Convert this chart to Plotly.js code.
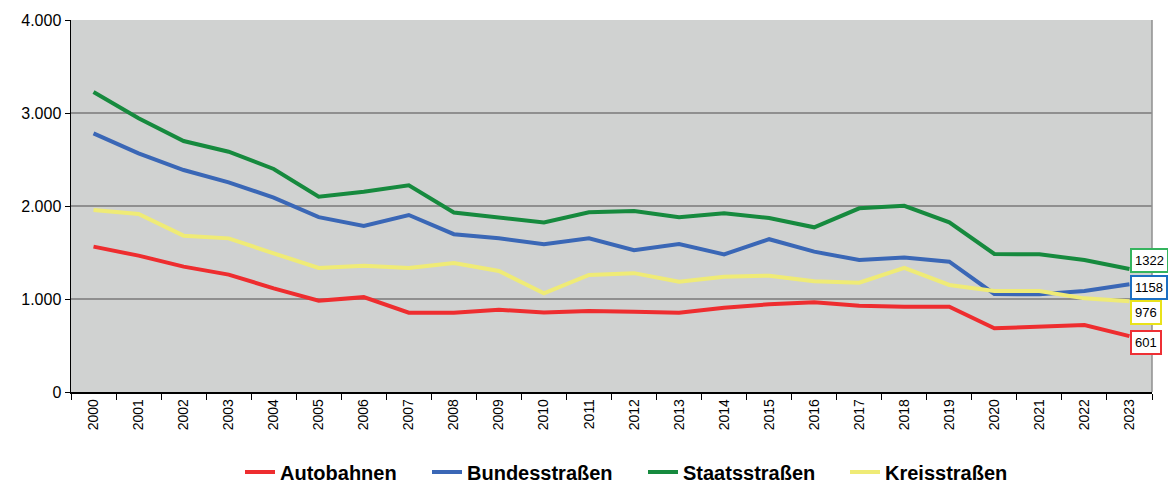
<!DOCTYPE html>
<html><head><meta charset="utf-8">
<script src="https://cdn.plot.ly/plotly-3.0.1.min.js"></script>
<style>html,body{margin:0;padding:0;background:#fff;}#chart{width:1168px;height:486px;}</style>
</head><body><div id="chart"></div>
<script>
const years = ["2000","2001","2002","2003","2004","2005","2006","2007","2008","2009","2010","2011","2012","2013","2014","2015","2016","2017","2018","2019","2020","2021","2022","2023"];
const autobahnen    = [1563,1466,1348,1262,1115,982,1020,853,853,885,855,871,864,853,907,943,964,928,918,918,685,703,720,601];
const bundesstrassen= [2781,2566,2387,2254,2090,1880,1786,1903,1697,1652,1590,1652,1525,1591,1480,1643,1509,1419,1446,1401,1054,1050,1086,1158];
const staatsstrassen= [3225,2943,2699,2584,2398,2100,2154,2222,1930,1876,1824,1932,1946,1878,1921,1870,1771,1975,2002,1824,1484,1480,1419,1322];
const kreisstrassen = [1957,1914,1681,1652,1491,1334,1358,1334,1388,1301,1061,1258,1278,1186,1240,1251,1190,1175,1335,1151,1086,1086,1007,976];
const seriesNames = ["Autobahnen","Bundesstraßen","Staatsstraßen","Kreisstraßen"];
const yTickVals = [0,1000,2000,3000,4000];

const colors = ["#ee2d2f","#3a67b6","#168a3e","#efeb76"];
const boxColors = ["#ee3035","#1c6fc2","#35b45e","#e9e21a"];
const shifts = [-6,-3,9,-11];
const legendIds = ["legend","legend2","legend3","legend4"];
const legendX = [240,427,643,845];
const data = [autobahnen,bundesstrassen,staatsstrassen,kreisstrassen];

const traces = data.map((d,i)=>({
  type:'scatter', mode:'lines', x:years, y:d, name:seriesNames[i], legend:legendIds[i],
  line:{color:colors[i], width:4}, hoverinfo:'skip'
}));

const annotations = data.map((d,i)=>({
  x: years.length-1, y: d[d.length-1], xref:'x', yref:'y',
  text: String(d[d.length-1]), showarrow:false, xanchor:'left', yanchor:'middle',
  xshift:1, yshift:shifts[i],
  font:{family:'Liberation Sans, Arial, sans-serif', size:13, color:'#000'},
  bgcolor:'#ffffff', bordercolor:boxColors[i], borderwidth:2, borderpad:3
}));

const layout = {
  width:1168, height:486,
  margin:{l:71, r:16, t:20, b:94},
  paper_bgcolor:'#ffffff', plot_bgcolor:'#d0d2d1',
  separators:',.',
  font:{family:'Liberation Sans, Arial, sans-serif', color:'#000'},
  showlegend:true,
  xaxis:{type:'category', tickson:'boundaries', ticks:'outside', ticklen:6, tickcolor:'#000', tickwidth:1,
    showline:true, linecolor:'#000', linewidth:1.5, showgrid:false, tickangle:-90,
    tickfont:{size:14}, range:[-0.5,23.5], zeroline:false},
  yaxis:{range:[0,4000], tickvals:yTickVals, tickformat:',d', ticks:'outside', ticklen:5, tickcolor:'#000',
    showline:true, linecolor:'#000', linewidth:1.5, showgrid:true, gridcolor:'#8f8f8f', gridwidth:1.5,
    zeroline:false, tickfont:{size:16}},
  shapes:[{type:'line', xref:'paper', yref:'paper', x0:1, x1:1, y0:0, y1:1, line:{color:'#8f8f8f', width:1.5}, layer:'below'}],
  annotations:annotations
};
legendIds.forEach((id,i)=>{
  layout[id] = {orientation:'h', xref:'container', yref:'container', x:legendX[i]/1168, xanchor:'left',
    y:14/486, yanchor:'middle', bgcolor:'rgba(0,0,0,0)', borderwidth:0, itemwidth:30,
    font:{size:20, weight:'bold', family:'Liberation Sans, Arial, sans-serif', color:'#000'}};
});
Plotly.newPlot('chart', traces, layout, {displayModeBar:false, staticPlot:true});
</script></body></html>
